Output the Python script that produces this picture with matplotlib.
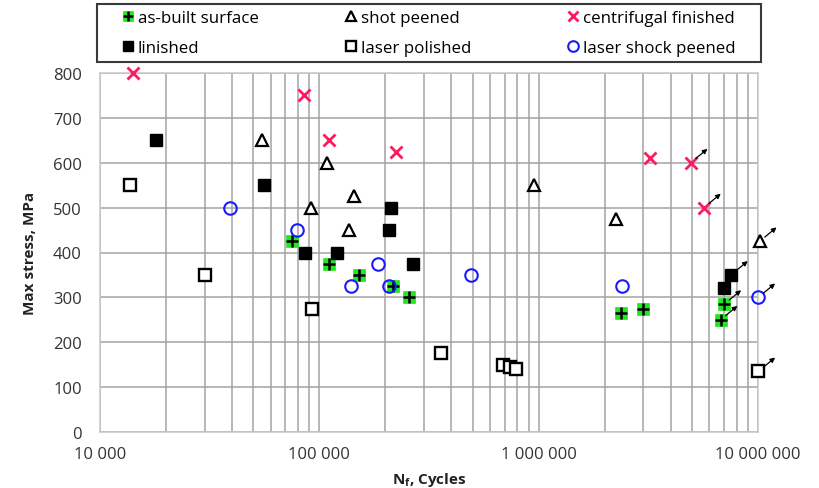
import matplotlib
matplotlib.use("Agg")
import matplotlib.pyplot as plt
from matplotlib.patches import Rectangle
from matplotlib.ticker import LogLocator, FixedLocator, NullFormatter
from matplotlib.transforms import offset_copy

plt.rcParams["font.family"] = ["Open Sans", "DejaVu Sans"]
plt.rcParams["mathtext.fontset"] = "custom"
plt.rcParams["mathtext.bf"] = "Open Sans:bold"
plt.rcParams["mathtext.rm"] = "Open Sans"

# fatigue data (cycles to failure, max stress MPa, runout flag)
as_built_n = [75000, 111000, 152000, 217000, 257000, 2370000, 3000000, 7030000, 6760000]
as_built_s = [425, 375, 350, 325, 300, 265, 275, 285, 250]
as_built_run = [0, 0, 0, 0, 0, 0, 0, 1, 1]

linished_n = [18000, 56000, 86000, 121000, 208000, 212000, 267000, 7000000, 7540000]
linished_s = [650, 550, 400, 400, 450, 500, 375, 320, 350]
linished_run = [0, 0, 0, 0, 0, 0, 0, 0, 1]

shot_n = [55000, 92000, 108000, 137000, 144000, 950000, 2250000, 10200000]
shot_s = [650, 500, 600, 450, 525, 550, 475, 425]
shot_run = [0, 0, 0, 0, 0, 0, 0, 1]

polished_n = [13700, 30000, 93000, 360000, 690000, 740000, 790000, 10050000]
polished_s = [550, 350, 275, 175, 150, 145, 140, 135]
polished_run = [0, 0, 0, 0, 0, 0, 0, 1]

centrifugal_n = [14200, 85000, 111000, 224000, 3220000, 4940000, 5680000]
centrifugal_s = [800, 750, 650, 625, 610, 600, 500]
centrifugal_run = [0, 0, 0, 0, 0, 1, 1]

lsp_n = [39000, 79000, 140000, 186000, 208000, 490000, 2390000, 10050000]
lsp_s = [500, 450, 325, 375, 325, 350, 325, 300]
lsp_run = [0, 0, 0, 0, 0, 0, 0, 1]

x_ticks = [1e4, 1e5, 1e6, 1e7]
y_ticks = [0, 100, 200, 300, 400, 500, 600, 700, 800]

GREEN = "#22e622"
RED = "#ff1a5e"
BLUE = "#1a1aff"
GRID = "#a3a3a3"

fig = plt.figure(figsize=(8.19, 4.89), dpi=100)
ax = fig.add_axes([100 / 819, 1 - 433 / 489, 658 / 819, 359 / 489])

kw = dict(linestyle="none", clip_on=False, zorder=3)
h_green, = ax.plot(as_built_n, as_built_s, marker="s", ms=9, mfc=GREEN, mec=GREEN, mew=0.5, **kw)
h_plus, = ax.plot(as_built_n, as_built_s, marker="+", ms=8, mec="black", mew=1.8, **kw)
h_lin, = ax.plot(linished_n, linished_s, marker="s", ms=9, mfc="black", mec="black", **kw)
h_shot, = ax.plot(shot_n, shot_s, marker="^", ms=9, mfc="white", mec="black", mew=1.6, **kw)
h_pol, = ax.plot(polished_n, polished_s, marker="s", ms=8.5, mfc="white", mec="black", mew=1.7, **kw)
h_cen, = ax.plot(centrifugal_n, centrifugal_s, marker="x", ms=8, mec=RED, mew=2, **kw)
h_lsp, = ax.plot(lsp_n, lsp_s, marker="o", ms=9, mfc="none", mec=BLUE, mew=1.5, **kw)

# runout arrows
tail = offset_copy(ax.transData, fig=fig, x=3.5, y=3, units="points")
head = offset_copy(ax.transData, fig=fig, x=12, y=10, units="points")
for ns, ss, rs in [(as_built_n, as_built_s, as_built_run), (linished_n, linished_s, linished_run),
                   (shot_n, shot_s, shot_run), (polished_n, polished_s, polished_run),
                   (centrifugal_n, centrifugal_s, centrifugal_run), (lsp_n, lsp_s, lsp_run)]:
    for n, s, r in zip(ns, ss, rs):
        if r:
            ax.annotate("", xy=(n, s), xycoords=head, xytext=(n, s), textcoords=tail,
                        arrowprops=dict(arrowstyle="-|>", color="black", lw=0.9,
                                        mutation_scale=7, shrinkA=0, shrinkB=0),
                        annotation_clip=False, zorder=4)

ax.set_xscale("log")
ax.set_xlim(1e4, 1e7)
ax.set_ylim(0, 800)
ax.xaxis.set_major_locator(FixedLocator(x_ticks))
ax.set_xticklabels([f"{int(v):,}".replace(",", " ") for v in x_ticks])
ax.xaxis.set_minor_locator(LogLocator(base=10, subs=range(2, 10)))
ax.xaxis.set_minor_formatter(NullFormatter())
ax.set_yticks(y_ticks)
ax.tick_params(which="both", length=0, labelsize=12, colors="#333333")
ax.tick_params(axis="y", pad=13)
ax.tick_params(axis="x", pad=10)
ax.grid(True, which="both", axis="x", color=GRID, lw=1.1)
ax.grid(True, which="major", axis="y", color=GRID, lw=1.1)
ax.set_axisbelow(True)
for sp in ax.spines.values():
    sp.set_color("#c8c8c8")
    sp.set_linewidth(1.1)

ax.set_ylabel("Max stress, MPa", fontsize=11, fontweight="bold", color="#222222")
ax.yaxis.set_label_coords(-0.096, 0.5)
ax.set_xlabel(r"$\mathbf{N_f}$, Cycles", fontsize=11, fontweight="bold", color="#222222")
ax.xaxis.set_label_coords(0.5, -0.105)

# legend: three columns inside one frame
fig.add_artist(Rectangle((97 / 819, 1 - 63 / 489), 664 / 819, 58 / 489, transform=fig.transFigure,
                         facecolor="white", edgecolor="#3a3a3a", lw=1.5, zorder=5))
cols = [
    ([(h_green, h_plus), h_lin], ["as-built surface", "linished"], 121),
    ([h_shot, h_pol], ["shot peened", "laser polished"], 344),
    ([h_cen, h_lsp], ["centrifugal finished", "laser shock peened"], 566),
]
for handles, labels, xpx in cols:
    leg = fig.legend(handles, labels, loc="upper left", bbox_to_anchor=(xpx / 819, 1 - 11 / 489),
                     frameon=False, fontsize=12.2, handlelength=0.85, handletextpad=0.15,
                     borderpad=0, borderaxespad=0, labelspacing=0.8, markerscale=0.85)
    leg.set_zorder(6)

fig.savefig("out.png", dpi=100)
